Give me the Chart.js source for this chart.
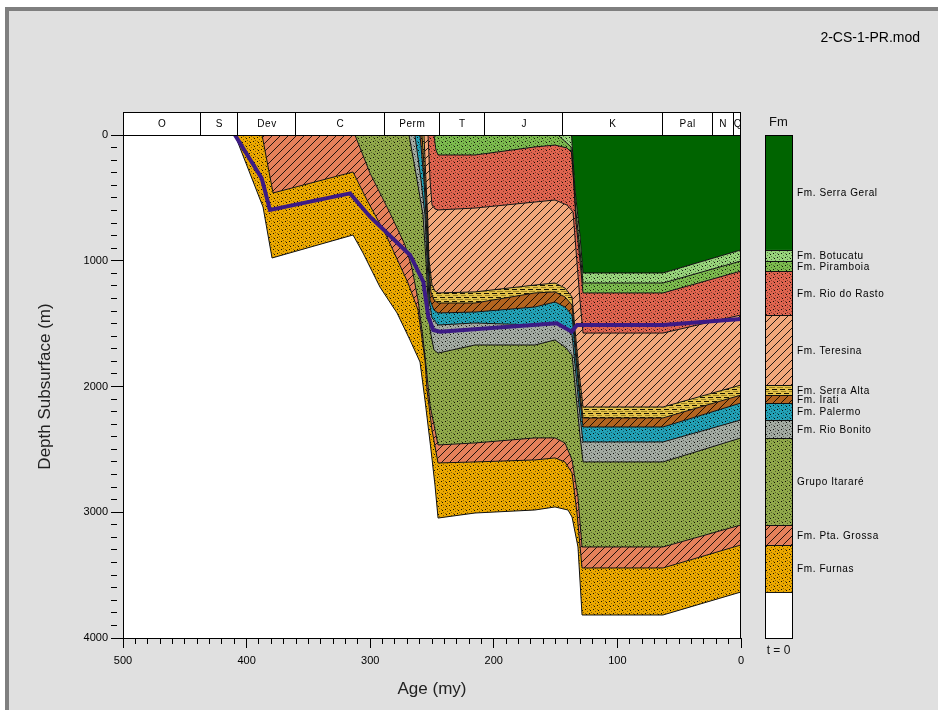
<!DOCTYPE html>
<html>
<head>
<meta charset="utf-8">
<script src="https://cdn.jsdelivr.net/npm/chart.js@4.4.1/dist/chart.umd.min.js"></script>
<style>
html, body { margin: 0; padding: 0; background: #e0e0e0; overflow: hidden; }
canvas { display: block; }
</style>
</head>
<body>
<canvas id="c" width="938" height="710"></canvas>
<script>
// ---- Burial history of well 2-CS-1-PR: base of each formation, age (Ma) vs depth (m) ----
const hFurnasAge = [409.4, 386.7, 379.4, 313.9, 305.8, 292.1, 278.3, 267.8, 259.7, 255.7, 250.8, 247.6, 245.1, 215.2, 166.7, 150.5, 140.0, 136.7, 131.9, 128.6, 63.1, 0];
const hFurnasDepth = [0, 573, 978, 795, 938, 1209, 1415, 1630, 1805, 2107, 2505, 2783, 3046, 3006, 2982, 2958, 2982, 3038, 3276, 3817, 3817, 3634];

const hPtaGrossaAge = [387.5, 378.6, 313.9, 302.6, 286.4, 269.4, 261.3, 255.7, 254.0, 250.0, 245.1, 215.2, 166.7, 150.5, 142.4, 136.7, 132.7, 128.6, 63.1, 0];
const hPtaGrossaDepth = [0, 461, 294, 517, 811, 1177, 1392, 1789, 2028, 2346, 2608, 2600, 2584, 2568, 2600, 2688, 3006, 3443, 3443, 3260];

const hItarareAge = [312.3, 300.2, 284.0, 271.8, 266.2, 261.3, 257.3, 254.9, 251.6, 245.1, 215.2, 166.7, 150.5, 142.4, 136.7, 131.9, 128.6, 63.1, 0];
const hItarareDepth = [0, 302, 620, 875, 1058, 1312, 1614, 1829, 2147, 2465, 2449, 2409, 2409, 2449, 2584, 2879, 3276, 3276, 3101];

const hRioBonitoAge = [268.6, 262.1, 257.3, 254.9, 253.2, 251.6, 248.4, 245.1, 215.2, 166.7, 150.5, 142.4, 136.7, 133.5, 130.3, 127.8, 63.1, 0];
const hRioBonitoDepth = [0, 358, 636, 994, 1312, 1551, 1710, 1734, 1670, 1670, 1630, 1686, 1749, 2068, 2386, 2600, 2600, 2409];

const hPalermoAge = [263.8, 258.9, 255.7, 254.0, 252.4, 250.0, 245.1, 215.2, 166.7, 150.5, 142.4, 136.7, 133.5, 130.3, 127.8, 63.1, 0];
const hPalermoDepth = [0, 358, 636, 994, 1312, 1455, 1511, 1495, 1511, 1495, 1527, 1590, 1908, 2227, 2441, 2441, 2266];

const hIratiAge = [259.7, 256.5, 254.9, 253.2, 251.6, 248.4, 245.1, 215.2, 166.7, 150.5, 142.4, 136.7, 133.5, 130.3, 127.8, 63.1, 0];
const hIratiDepth = [0, 358, 636, 994, 1312, 1392, 1415, 1408, 1368, 1328, 1368, 1431, 1789, 2107, 2322, 2322, 2131];

const hSerraAltaAge = [258.1, 255.7, 254.0, 252.8, 250.8, 248.4, 245.1, 215.2, 166.7, 150.5, 142.4, 136.7, 133.5, 130.3, 127.8, 63.1, 0];
const hSerraAltaDepth = [0, 358, 636, 994, 1248, 1312, 1336, 1336, 1256, 1248, 1288, 1352, 1710, 2044, 2250, 2250, 2068];

const hTeresinaAge = [256.5, 254.9, 253.6, 252.4, 250.0, 247.6, 245.1, 215.2, 166.7, 150.5, 142.4, 136.7, 133.5, 130.3, 127.8, 63.1, 0];
const hTeresinaDepth = [0, 358, 636, 994, 1193, 1240, 1256, 1248, 1193, 1177, 1217, 1288, 1630, 1948, 2163, 2163, 1988];

const hRioRastoAge = [253.2, 251.6, 250.0, 247.6, 245.1, 215.2, 166.7, 150.5, 140.8, 135.9, 133.5, 130.3, 127.8, 63.1, 0];
const hRioRastoDepth = [0, 358, 557, 588, 596, 581, 533, 517, 557, 612, 914, 1312, 1575, 1575, 1431];

const hPiramboiaAge = [248.4, 246.8, 245.1, 215.2, 166.7, 150.5, 140.8, 136.7, 133.5, 130.3, 127.8, 63.1, 0];
const hPiramboiaDepth = [0, 119, 159, 159, 95, 80, 103, 143, 692, 994, 1256, 1256, 1082];

const hBotucatuAge = [148.1, 137.5, 133.5, 130.3, 127.8, 63.1, 0];
const hBotucatuDepth = [0, 95, 612, 914, 1177, 1177, 1002];

const hSerraGeralAge = [137.1, 134.3, 130.3, 127.8, 63.1, 0];
const hSerraGeralDepth = [0, 437, 795, 1097, 1097, 914];

// burial path drawn in purple
const pathAge = [409.4, 387.8, 381.1, 316.3, 300.2, 267.8, 257.0, 253.0, 249.0, 243.5, 149.1, 137.0, 132.7, 63.1, 0];
const pathDepth = [0, 344, 596, 464, 650, 954, 1167, 1445, 1551, 1564, 1497, 1564, 1511, 1511, 1463];

// formations, oldest first
const formationNames = ['Fm. Furnas', 'Fm. Pta. Grossa', 'Grupo Itararé', 'Fm. Rio Bonito', 'Fm. Palermo', 'Fm. Irati', 'Fm. Serra Alta', 'Fm. Teresina', 'Fm. Rio do Rasto', 'Fm. Piramboia', 'Fm. Botucatu', 'Fm. Serra Geral'];
const formationColors = ['#eba800', '#e5805a', '#90a84a', '#a3aba2', '#22a1b6', '#b3641f', '#e4c24a', '#f2a77a', '#df644f', '#7cba4e', '#98d47b', '#006400'];
const formationFills = ['dots', 'hatch', 'dots', 'dots', 'dots', 'hatch', 'dashes', 'hatch', 'dots', 'dots', 'dots', 'solid'];

// geological time scale header
const periodAges = [500, 438.1, 407.5, 361, 288.8, 244.7, 207.6, 144.8, 64.2, 23.6, 6.7, 0];
const periodNames = ['O', 'S', 'Dev', 'C', 'Perm', 'T', 'J', 'K', 'Pal', 'N', 'Q'];

// axis ticks
const ageTicks = [500, 400, 300, 200, 100, 0];
const depthTicks = [0, 1000, 2000, 3000, 4000];

const FONT = "'Liberation Sans', Arial, sans-serif";
const canvas = document.getElementById('c');
const mainCtx = canvas.getContext('2d');

function makeFill(color, kind) {
  if (kind === 'solid') return color;
  const t = document.createElement('canvas');
  t.width = 8; t.height = 8;
  const g = t.getContext('2d');
  g.fillStyle = color;
  g.fillRect(0, 0, 8, 8);
  if (kind === 'dots') {
    g.fillStyle = 'rgba(0,0,0,0.9)';
    g.fillRect(1, 1, 1, 1); g.fillRect(5, 5, 1, 1); g.fillRect(6, 2, 1, 1); g.fillRect(2, 6, 1, 1);
    g.fillStyle = 'rgba(0,0,0,0.4)';
    g.fillRect(5, 1, 1, 1); g.fillRect(1, 5, 1, 1); g.fillRect(3, 3, 1, 1); g.fillRect(7, 7, 1, 1);
    g.fillRect(3, 0, 1, 1); g.fillRect(7, 4, 1, 1);
  } else if (kind === 'hatch') {
    g.strokeStyle = 'rgba(0,0,0,0.85)';
    g.lineWidth = 1;
    g.beginPath();
    g.moveTo(-1, 9); g.lineTo(9, -1);
    g.moveTo(-1, 1); g.lineTo(1, -1);
    g.moveTo(7, 9); g.lineTo(9, 7);
    g.stroke();
  } else if (kind === 'dashes') {
    g.fillStyle = '#1a1400';
    g.fillRect(0, 1, 5, 1);
    g.fillRect(4, 5, 4, 1); g.fillRect(0, 5, 1, 1);
    g.fillStyle = 'rgba(90,70,0,0.5)';
    g.fillRect(1, 3, 6, 1);
    g.fillRect(5, 7, 3, 1); g.fillRect(0, 7, 2, 1);
  }
  return mainCtx.createPattern(t, 'repeat');
}
const fills = formationColors.map((c, i) => makeFill(c, formationFills[i]));

const horizons = [
  [hFurnasAge, hFurnasDepth], [hPtaGrossaAge, hPtaGrossaDepth], [hItarareAge, hItarareDepth],
  [hRioBonitoAge, hRioBonitoDepth], [hPalermoAge, hPalermoDepth], [hIratiAge, hIratiDepth],
  [hSerraAltaAge, hSerraAltaDepth], [hTeresinaAge, hTeresinaDepth], [hRioRastoAge, hRioRastoDepth],
  [hPiramboiaAge, hPiramboiaDepth], [hBotucatuAge, hBotucatuDepth], [hSerraGeralAge, hSerraGeralDepth]
];
const firstAge = hFurnasAge[0];

// each horizon runs along the surface until it is deposited, then follows its burial curve
function horizonPoints(ages, depths) {
  const pts = [];
  if (ages[0] < firstAge) pts.push({x: firstAge, y: 0});
  ages.forEach((a, i) => pts.push({x: a, y: depths[i]}));
  return pts;
}

const datasets = horizons.map((h, i) => ({
  label: formationNames[i],
  data: horizonPoints(h[0], h[1]),
  borderColor: '#111',
  borderWidth: 1,
  pointRadius: 0,
  tension: 0,
  fill: '+1',
  backgroundColor: fills[i]
}));
datasets.push({
  label: 'surface',
  data: [{x: firstAge, y: 0}, {x: 0, y: 0}],
  borderWidth: 0,
  borderColor: 'rgba(0,0,0,0)',
  pointRadius: 0,
  fill: false
});
datasets.push({
  label: 'path',
  data: pathAge.map((a, i) => ({x: a, y: pathDepth[i]})),
  borderColor: '#3c1b85',
  borderWidth: 4,
  pointRadius: 0,
  tension: 0,
  fill: false,
  order: -1
});

const frame = {
  id: 'frame',
  beforeDraw(chart) {
    const {ctx, chartArea: a, width, height} = chart;
    ctx.save();
    ctx.fillStyle = '#ffffff';
    ctx.fillRect(0, 0, width, height);
    ctx.fillStyle = '#e0e0e0';
    ctx.fillRect(9, 11, width - 9, height - 11);
    ctx.fillStyle = '#7f7f7f';
    ctx.fillRect(5, 7, width - 5, 4);
    ctx.fillRect(5, 7, 4, height - 7);
    ctx.fillStyle = '#ffffff';
    ctx.fillRect(a.left, a.top, a.right - a.left, a.bottom - a.top);
    ctx.restore();
  },
  afterDraw(chart) {
    const {ctx, chartArea: a} = chart;
    const xs = chart.scales.x, ys = chart.scales.y;
    ctx.save();
    ctx.strokeStyle = '#000';
    ctx.lineWidth = 1;
    // right edge of plot
    ctx.beginPath();
    ctx.moveTo(a.right - 0.5, a.top);
    ctx.lineTo(a.right - 0.5, a.bottom);
    ctx.stroke();

    // time scale header
    const hh = 23, hTop = a.top - hh;
    ctx.fillStyle = '#fff';
    ctx.fillRect(a.left, hTop, a.right - a.left, hh);
    ctx.strokeRect(a.left + 0.5, hTop + 0.5, a.right - a.left - 1, hh);
    ctx.beginPath();
    for (let i = 1; i < periodAges.length - 1; i++) {
      const px = Math.round(xs.getPixelForValue(periodAges[i])) + 0.5;
      ctx.moveTo(px, hTop);
      ctx.lineTo(px, a.top);
    }
    ctx.stroke();
    ctx.save();
    ctx.beginPath();
    ctx.rect(a.left, hTop, a.right - a.left, hh);
    ctx.clip();
    ctx.fillStyle = '#000';
    ctx.font = '10px ' + FONT;
    ctx.letterSpacing = '0.6px';
    ctx.textAlign = 'center';
    ctx.textBaseline = 'middle';
    for (let i = 0; i < periodNames.length; i++) {
      const cx = (xs.getPixelForValue(periodAges[i]) + xs.getPixelForValue(periodAges[i + 1])) / 2;
      ctx.fillText(periodNames[i], cx + 1, hTop + hh / 2 + 1);
    }
    ctx.restore();

    // present-day column (t = 0)
    const lx = a.right + 24, lw = 27;
    for (let i = 0; i < horizons.length; i++) {
      const baseD = horizons[i][1][horizons[i][1].length - 1];
      const topD = i + 1 < horizons.length ? horizons[i + 1][1][horizons[i + 1][1].length - 1] : 0;
      const y0 = ys.getPixelForValue(topD), y1 = ys.getPixelForValue(baseD);
      ctx.fillStyle = fills[i];
      ctx.fillRect(lx, y0, lw, y1 - y0);
      ctx.strokeStyle = '#111';
      ctx.beginPath();
      ctx.moveTo(lx, Math.round(y1) + 0.5);
      ctx.lineTo(lx + lw, Math.round(y1) + 0.5);
      ctx.stroke();
      ctx.fillStyle = '#000';
      ctx.font = '10px ' + FONT;
      ctx.letterSpacing = '0.6px';
      ctx.textAlign = 'left';
      ctx.textBaseline = 'middle';
      ctx.fillText(formationNames[i], lx + lw + 5, (y0 + y1) / 2 + 1);
    }
    const yb = ys.getPixelForValue(hFurnasDepth[hFurnasDepth.length - 1]);
    ctx.fillStyle = '#fff';
    ctx.fillRect(lx, yb + 1, lw, a.bottom - yb - 1);
    ctx.strokeStyle = '#000';
    ctx.strokeRect(lx + 0.5, a.top + 0.5, lw, a.bottom - a.top);
    ctx.letterSpacing = '0px';
    ctx.fillStyle = '#111';
    ctx.textAlign = 'center';
    ctx.font = '13px ' + FONT;
    ctx.fillText('Fm', lx + lw / 2, a.top - 13);
    ctx.font = '12px ' + FONT;
    ctx.fillText('t = 0', lx + lw / 2, a.bottom + 13);

    // model file name
    ctx.font = '14px ' + FONT;
    ctx.textAlign = 'right';
    ctx.fillStyle = '#000';
    ctx.fillText('2-CS-1-PR.mod', chart.width - 18, 38);
    ctx.restore();
  }
};

new Chart(canvas, {
  type: 'line',
  data: {datasets},
  options: {
    responsive: false,
    devicePixelRatio: 1,
    animation: false,
    events: [],
    layout: {padding: {left: 0, right: 197, top: 135, bottom: 0}},
    plugins: {
      legend: {display: false},
      tooltip: {enabled: false},
      filler: {drawTime: 'beforeDatasetsDraw', propagate: false}
    },
    scales: {
      x: {
        type: 'linear', min: 0, max: 500, reverse: true,
        afterFit: s => { s.height = 72; },
        border: {display: true, color: '#000', width: 1},
        grid: {
          display: true, drawOnChartArea: false, drawTicks: true,
          tickLength: 10, tickColor: '#000', tickWidth: 1,
          tickBorderDash: c => (c.tick && ageTicks.includes(c.tick.value)) ? [] : [5, 40]
        },
        ticks: {
          stepSize: 10, maxTicksLimit: 1000, autoSkip: false, maxRotation: 0, minRotation: 0,
          padding: 6, color: '#000', font: {family: FONT, size: 11},
          callback: v => ageTicks.includes(v) ? String(v) : ''
        },
        title: {display: true, text: 'Age (my)', color: '#222', font: {family: FONT, size: 17}, padding: {top: 0, bottom: 10}}
      },
      y: {
        type: 'linear', min: 0, max: 4000, reverse: true,
        afterFit: s => { s.width = 123; },
        border: {display: true, color: '#000', width: 1},
        grid: {
          display: true, drawOnChartArea: false, drawTicks: true,
          tickLength: 12, tickColor: '#000', tickWidth: 1,
          tickBorderDash: c => (c.tick && depthTicks.includes(c.tick.value)) ? [] : [6, 40]
        },
        ticks: {
          stepSize: 100, maxTicksLimit: 1000, autoSkip: false,
          padding: 3, color: '#000', font: {family: FONT, size: 11},
          callback: v => depthTicks.includes(v) ? String(v) : ''
        },
        title: {display: true, text: 'Depth Subsurface (m)', color: '#222', font: {family: FONT, size: 17}, padding: {top: 35, bottom: 0}}
      }
    }
  },
  plugins: [frame]
});
</script>
</body>
</html>
